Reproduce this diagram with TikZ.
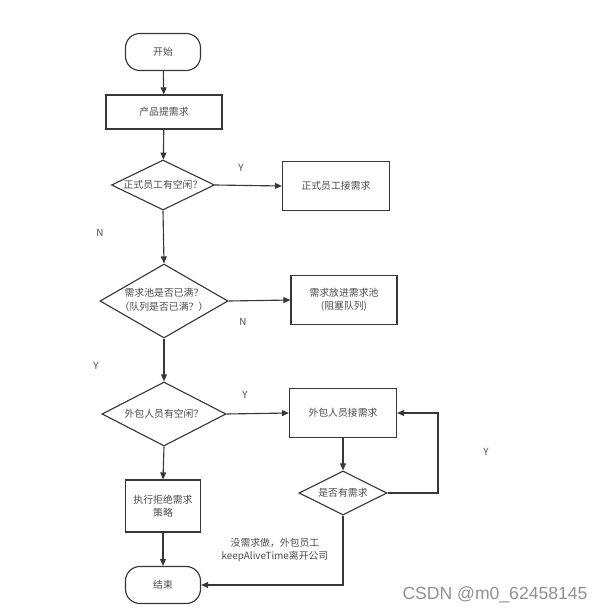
\documentclass[tikz,border=0pt]{standalone}
\usepackage{fontspec}
\setmainfont{Noto Sans CJK SC}
\newfontfamily\markfont{Liberation Sans}
\usetikzlibrary{shapes.geometric,arrows.meta,calc}
\definecolor{xLine}{RGB}{55,55,55}
\definecolor{xText}{RGB}{75,75,75}
\definecolor{xMark}{RGB}{145,145,145}

\tikzset{
  every node/.style={font=\fontsize{7}{9.5}\selectfont, text=xText},
  termbox/.style={draw=xLine, line width=0.8pt, rounded corners=0.36cm, minimum width=1.875cm, minimum height=0.925cm},
  procbox/.style={draw=xLine, line width=0.8pt, align=center},
  askbox/.style={draw=xLine, line width=0.8pt, shape=diamond, inner sep=0pt, align=center},
  flow/.style={draw=xLine, line width=0.8pt, -{Triangle[length=5pt,width=4.2pt]}},
  tag/.style={font=\fontsize{7}{9}\selectfont}
}
\newcommand{\nowide}[1]{\makebox[0pt]{#1}}

\begin{document}
\begin{tikzpicture}[x=0.025cm,y=-0.025cm]
    \useasboundingbox (0,0) rectangle (599,613);

    % left column
    \node[termbox] (start) at (163,52) {开始};
    \node[procbox, minimum width=2.9cm, minimum height=0.85cm] (ask) at (164,112) {产品提需求};
    \node[askbox, minimum width=2.575cm, minimum height=1.25cm] (staff) at (163,185) {\nowide{正式员工有空闲？}};
    \node[askbox, minimum width=3.2cm, minimum height=1.85cm] (pool) at (164,301)
        {\nowide{\begin{tabular}{@{}c@{}}需求池是否已满？\\（队列是否已满？）\end{tabular}}};
    \node[askbox, minimum width=3.1cm, minimum height=1.6cm] (outer) at (164,414) {\nowide{外包人员有空闲？}};
    \node[procbox, minimum width=1.875cm, minimum height=1.3cm] (reject) at (163,506) {执行拒绝需求\\策略};
    \node[termbox] (stop) at (163,585) {结束};

    % right column
    \node[procbox, minimum width=2.675cm, minimum height=1.225cm] (staffdo) at (336,186) {正式员工接需求};
    \node[procbox, minimum width=2.65cm, minimum height=1.225cm] (queue) at (344,300) {需求放进需求池\\(阻塞队列)};
    \node[procbox, minimum width=2.675cm, minimum height=1.225cm] (outerdo) at (343,413) {外包人员接需求};
    \node[askbox, minimum width=2.2cm, minimum height=1.1cm] (more) at (343,493) {\nowide{是否有需求}};
    \coordinate (loop) at (438,493);

    % connectors
    \draw[flow] (start) -- (ask);
    \draw[flow] (ask) -- (staff);
    \draw[flow] (staff.east) -- (staffdo.west);
    \draw[flow] (staff.south) -- (pool.north);
    \draw[flow] (pool.east) -- (queue.west);
    \draw[flow] (pool.south) -- (outer.north);
    \draw[flow] (outer.east) -- (outerdo.west);
    \draw[flow] (outer.south) -- (reject.north);
    \draw[flow] (reject.south) -- (stop.north);
    \draw[flow] (outerdo.south) -- (more.north);
    \draw[flow] (more.east) -- (loop) |- (outerdo.east);
    \draw[flow] (more.south) |- (stop.east);

    % branch labels
    \node[tag] (y1) at (241,168) {Y};
    \node[tag] (n1) at (100,233) {N};
    \node[tag] (n2) at (243,322) {N};
    \node[tag] (y2) at (96,366) {Y};
    \node[tag] (y3) at (245,395) {Y};
    \node[tag] (y4) at (486,452) {Y};
    \node[tag, align=center] (leave) at (275,550) {没需求做，外包员工\\keepAliveTime离开公司};

    \node[font=\markfont\fontsize{12.5}{14}\selectfont, text=xMark] (csdn) at (495,595) {CSDN @m0\_62458145};
\end{tikzpicture}
\end{document}
